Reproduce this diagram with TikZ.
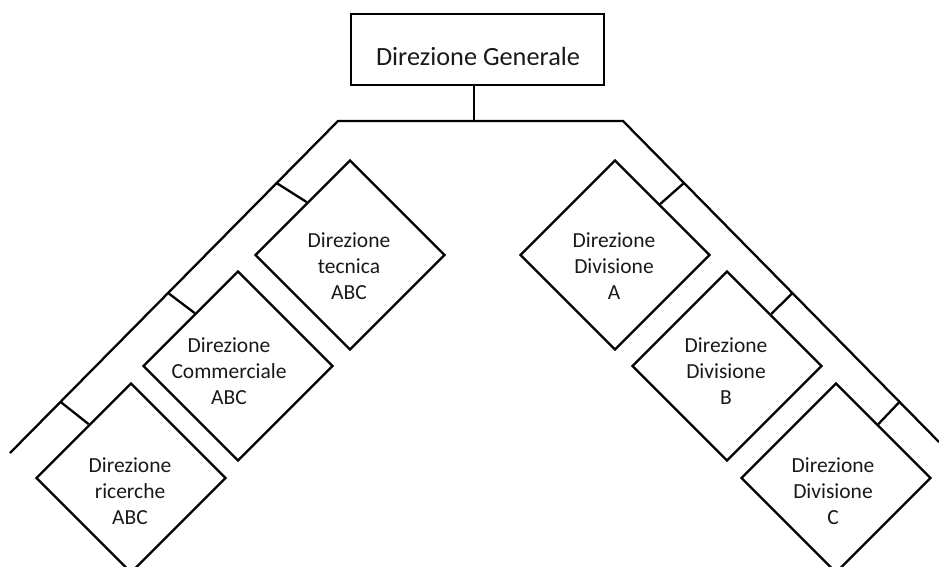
\documentclass[tikz,border=0pt]{standalone}
\usepackage{fontspec}
\setmainfont{Carlito}
\usetikzlibrary{shapes.geometric,calc}

\tikzset{
  orgline/.style={line width=2.3pt, line cap=butt, line join=miter, black},
  headbox/.style={draw, orgline, rectangle, minimum width=253pt, minimum height=71pt, inner sep=0pt},
  headtext/.style={font=\fontsize{26.3}{31}\selectfont, anchor=base, inner sep=0pt, text=black!90},
  unitbox/.style={draw, orgline, diamond, minimum width=190pt, minimum height=190pt, inner sep=0pt},
  unittext/.style={font=\fontsize{21.5}{26}\selectfont, align=center, inner sep=0pt, text=black!90}
}

\begin{document}
\begin{tikzpicture}[x=1pt, y=-1pt]
  \useasboundingbox (0,0) rectangle (939,567);
  \clip (0,0) rectangle (939,567);

  % head office
  \node[headbox] (gen) at (477.5,49.5) {};
  \node[headtext] (gentxt) at (478,66) {Direzione Generale};

  % branching bus: stem, top bar and the two slanted arms
  \coordinate (stem) at (474,121);
  \coordinate (cl) at (338,121);
  \coordinate (cr) at (623,121);
  \coordinate (el) at (10,453);
  \coordinate (er) at (939,442);
  \draw[orgline] (gen.south -| stem) -- (stem);
  \draw[orgline] (el) -- (cl) -- (cr) -- (er);

  % left branch units
  \node[unitbox] (tec) at (350,255) {};
  \node[unitbox] (com) at (238,366) {};
  \node[unitbox] (ric) at (131,478) {};
  \node[unittext] (tectxt) at (349,266) {Direzione\\tecnica\\ABC};
  \node[unittext] (comtxt) at (229,371) {Direzione\\Commerciale\\ABC};
  \node[unittext] (rictxt) at (130,491) {Direzione\\ricerche\\ABC};

  % right branch units
  \node[unitbox] (dva) at (615,255) {};
  \node[unitbox] (dvb) at (727,366) {};
  \node[unitbox] (dvc) at (836,478) {};
  \node[unittext] (dvatxt) at (614,266) {Direzione\\Divisione\\A};
  \node[unittext] (dvbtxt) at (726,371) {Direzione\\Divisione\\B};
  \node[unittext] (dvctxt) at (833,491) {Direzione\\Divisione\\C};

  % taps on the arms
  \coordinate (tl1) at ($(cl)!0.187!(el)$);
  \coordinate (tl2) at ($(cl)!0.518!(el)$);
  \coordinate (tl3) at ($(cl)!0.846!(el)$);
  \coordinate (tr1) at ($(cr)!0.193!(er)$);
  \coordinate (tr2) at ($(cr)!0.536!(er)$);
  \coordinate (tr3) at ($(cr)!0.875!(er)$);

  % short links from the arms to each unit
  \draw[orgline] (tl1) -- ($(tec.west)!0.55!(tec.north)$);
  \draw[orgline] (tl2) -- ($(com.west)!0.55!(com.north)$);
  \draw[orgline] (tl3) -- ($(ric.west)!0.56!(ric.north)$);
  \draw[orgline] (tr1) -- ($(dva.east)!0.53!(dva.north)$);
  \draw[orgline] (tr2) -- ($(dvb.east)!0.54!(dvb.north)$);
  \draw[orgline] (tr3) -- ($(dvc.east)!0.56!(dvc.north)$);
\end{tikzpicture}
\end{document}
